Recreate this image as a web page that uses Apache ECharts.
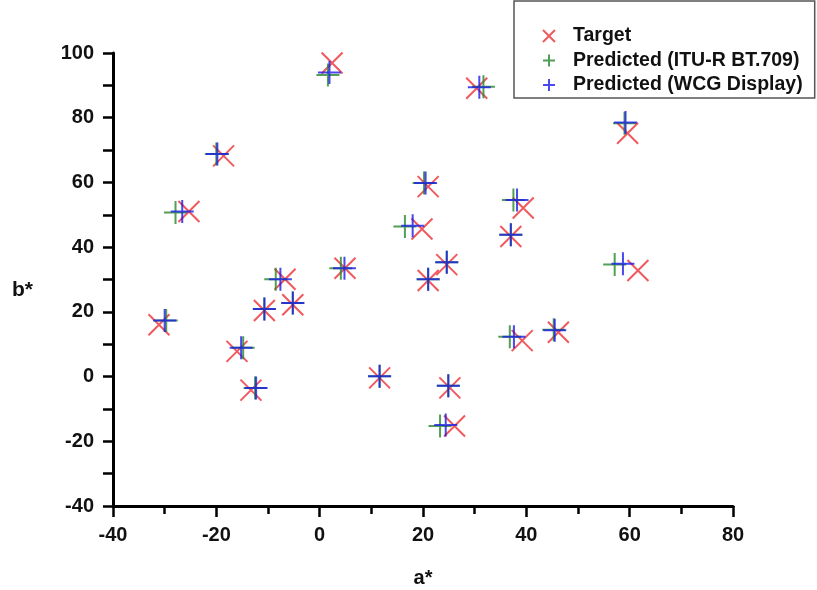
<!DOCTYPE html>
<html>
<head>
<meta charset="utf-8">
<script src="https://cdn.jsdelivr.net/npm/echarts@6/dist/echarts.min.js"></script>
<style>html,body{margin:0;padding:0;background:#fff;}#c{width:817px;height:590px;}</style>
</head>
<body>
<div id="c"></div>
<script>
// a*, b* values per patch (24 patches)
var targetA = [2.4, -18.6, -25.3, -31.1, -16.0, -13.3, -10.7, -5.2, -6.7, 4.9, 30.4, 59.6, 21.0, 39.4, 19.8, 37.0, 24.6, 21.0, 61.6, 39.2, 46.2, 11.6, 25.2, 26.1];
var targetB = [96.9, 68.2, 51.0, 16.0, 7.8, -4.2, 20.4, 22.2, 30.1, 33.5, 89.1, 75.2, 58.7, 52.1, 45.6, 43.3, 34.6, 29.7, 32.8, 11.1, 13.7, -0.4, -3.5, -15.3];
var bt709A = [1.6, -20.0, -27.9, -29.7, -14.8, -12.5, -10.7, -5.2, -8.5, 4.1, 31.7, 59.0, 20.2, 37.5, 16.5, 37.0, 24.6, 21.0, 57.1, 36.8, 45.3, 11.6, 24.9, 23.3];
var bt709B = [93.2, 68.8, 50.7, 17.3, 8.9, -3.5, 20.9, 22.7, 30.1, 33.5, 89.6, 78.3, 59.8, 54.6, 46.4, 43.8, 35.3, 30.1, 34.6, 12.3, 14.5, 0.1, -2.8, -15.3];
var wcgA = [1.9, -19.8, -26.6, -30.0, -15.2, -12.3, -10.7, -5.2, -7.6, 4.8, 30.9, 59.2, 20.5, 38.2, 18.0, 37.0, 24.6, 21.0, 58.7, 37.6, 45.5, 11.6, 24.9, 24.4];
var wcgB = [94.0, 68.8, 51.0, 17.3, 8.9, -3.5, 20.9, 22.7, 30.1, 33.5, 89.4, 78.5, 59.8, 54.6, 46.6, 43.8, 35.3, 30.1, 34.9, 12.3, 14.3, 0.1, -2.8, -15.0];
var seriesNames = ['Target', 'Predicted (ITU-R BT.709)', 'Predicted (WCG Display)'];
var xTicks = {min: -40, max: 80, interval: 20};
var yTicks = {min: -40, max: 100, interval: 20};

function zip(a, b) { return a.map(function (v, i) { return [v, b[i]]; }); }

var FONT = '"Liberation Sans", Arial, Helvetica, sans-serif';
var xSym = 'path://M0,0L10,10M10,0L0,10';
var pSym = 'path://M5,0L5,10M0,5L10,5';

var chart = echarts.init(document.getElementById('c'), null, {renderer: 'canvas'});
chart.setOption({
  animation: false,
  backgroundColor: '#ffffff',
  grid: {left: 113, right: 84, top: 53, bottom: 84, containLabel: false, outerBoundsMode: 'none'},
  legend: {
    orient: 'vertical',
    left: 514, top: 1,
    padding: [25, 12, 3, 28],
    itemGap: 4.5,
    itemWidth: 12, itemHeight: 12,
    borderColor: '#555555', borderWidth: 1.5,
    backgroundColor: '#ffffff',
    textStyle: {fontFamily: FONT, fontWeight: 'bold', fontSize: 19.5, lineHeight: 20, color: '#111', padding: [0, 0, 0, 13]},
    data: seriesNames.map(function (n) { return {name: n}; })
  },
  xAxis: {
    type: 'value', min: xTicks.min, max: xTicks.max, interval: xTicks.interval,
    name: 'a*', nameLocation: 'middle', nameGap: 62,
    nameTextStyle: {fontFamily: FONT, fontWeight: 'bold', fontSize: 20, color: '#111'},
    axisLine: {show: true, onZero: false, lineStyle: {color: '#000', width: 3}},
    axisTick: {show: true, inside: false, length: 11, lineStyle: {color: '#000', width: 2.5}},
    minorTick: {show: true, splitNumber: 2, length: 8, lineStyle: {color: '#000', width: 2.5}},
    axisLabel: {fontFamily: FONT, fontWeight: 'bold', fontSize: 20, color: '#111', margin: 19},
    splitLine: {show: false}
  },
  yAxis: {
    type: 'value', min: yTicks.min, max: yTicks.max, interval: yTicks.interval,
    name: 'b*', nameLocation: 'middle', nameGap: 80, nameRotate: 0,
    nameTextStyle: {fontFamily: FONT, fontWeight: 'bold', fontSize: 21, color: '#111', verticalAlign: 'top'},
    axisLine: {show: true, onZero: false, lineStyle: {color: '#000', width: 3}},
    axisTick: {show: true, inside: false, length: 10, lineStyle: {color: '#000', width: 2.5}},
    minorTick: {show: true, splitNumber: 2, length: 10, lineStyle: {color: '#000', width: 2.5}},
    axisLabel: {fontFamily: FONT, fontWeight: 'bold', fontSize: 20, color: '#111', margin: 19},
    splitLine: {show: false}
  },
  series: [
    {
      name: seriesNames[0], type: 'scatter', symbol: xSym, symbolSize: 21,
      itemStyle: {color: 'rgba(0,0,0,0)', borderColor: '#ec3035', borderWidth: 2},
      emphasis: {disabled: true},
      data: zip(targetA, targetB), z: 2
    },
    {
      name: seriesNames[1], type: 'scatter', symbol: pSym, symbolSize: 23,
      itemStyle: {color: 'rgba(0,0,0,0)', borderColor: '#26882a', borderWidth: 2},
      emphasis: {disabled: true},
      data: zip(bt709A, bt709B), z: 3
    },
    {
      name: seriesNames[2], type: 'scatter', symbol: pSym, symbolSize: 23,
      itemStyle: {color: 'rgba(0,0,0,0)', borderColor: '#1c1ce8', borderWidth: 2},
      emphasis: {disabled: true},
      data: zip(wcgA, wcgB), z: 4
    }
  ]
});
</script>
</body>
</html>
